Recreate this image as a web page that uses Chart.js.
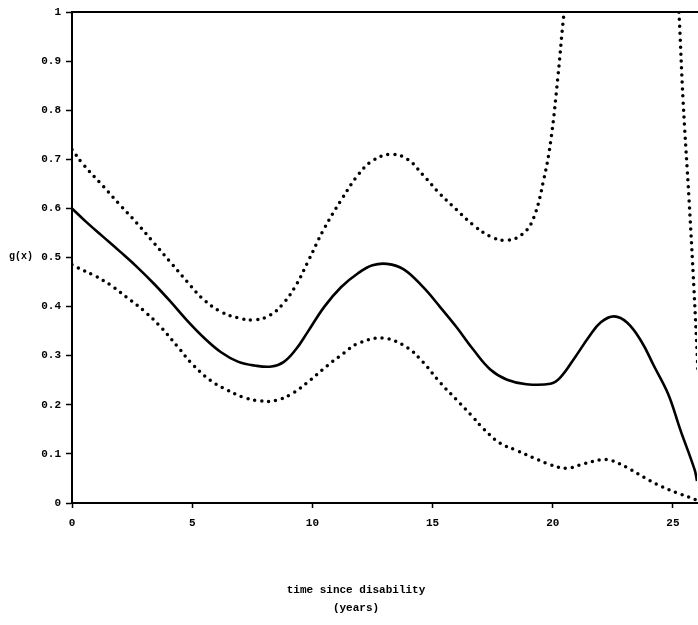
<!DOCTYPE html>
<html>
<head>
<meta charset="utf-8">
<script src="https://cdn.jsdelivr.net/npm/chart.js@4/dist/chart.umd.min.js"></script>
<style>
  html, body { margin: 0; padding: 0; background: #fff; }
  #wrap { width: 698px; height: 625px; }
</style>
</head>
<body>
<div id="wrap"><canvas id="gChart" width="698" height="625"></canvas></div>
<script>
// estimate g(x) and its pointwise band
const estX = [0, 0.6, 1.3, 2.0, 2.7, 3.4, 4.1, 4.8, 5.5, 6.2, 6.9, 7.6, 8.3, 8.8, 9.3, 9.8, 10.5, 11.2, 11.9, 12.5, 13.1, 13.8, 14.6, 15.3, 16.0, 16.7, 17.4, 18.1, 18.9, 19.9, 20.3, 20.9, 21.5, 22.0, 22.55, 23.1, 23.7, 24.2, 24.8, 25.3, 25.9, 26.0];
const estY = [0.60, 0.572, 0.542, 0.512, 0.481, 0.447, 0.41, 0.371, 0.336, 0.307, 0.288, 0.28, 0.278, 0.287, 0.312, 0.348, 0.40, 0.44, 0.468, 0.484, 0.487, 0.476, 0.44, 0.40, 0.358, 0.312, 0.272, 0.251, 0.242, 0.243, 0.255, 0.295, 0.338, 0.368, 0.38, 0.367, 0.328, 0.28, 0.222, 0.15, 0.068, 0.045];

const upX = [0, 0.46, 1.3, 2.0, 2.7, 3.4, 4.1, 4.8, 5.46, 6.17, 6.9, 7.6, 8.25, 8.8, 9.3, 9.8, 10.46, 11.2, 11.9, 12.5, 13.25, 13.96, 14.6, 15.3, 16.0, 16.7, 17.4, 18.1, 18.75, 19.2, 19.63, 19.92, 20.21, 20.46, 21.2, 22.5, 24.0, 25.0, 25.25, 25.42, 25.67, 25.875, 26.04];
const upY = [0.72, 0.69, 0.645, 0.607, 0.57, 0.53, 0.49, 0.45, 0.415, 0.39, 0.377, 0.373, 0.383, 0.407, 0.442, 0.49, 0.556, 0.617, 0.668, 0.697, 0.71, 0.70, 0.668, 0.63, 0.597, 0.566, 0.543, 0.535, 0.548, 0.58, 0.66, 0.739, 0.866, 0.994, 1.3, 1.6, 1.6, 1.22, 1.0, 0.82, 0.617, 0.434, 0.27];

const lowX = [0, 0.2, 0.9, 1.6, 2.3, 3.0, 3.7, 4.4, 5.0, 5.75, 6.46, 7.1, 7.8, 8.5, 9.2, 9.9, 10.6, 11.3, 11.9, 12.96, 13.96, 14.6, 15.3, 16.0, 16.7, 17.1, 17.8, 18.5, 19.2, 19.9, 20.6, 21.3, 22.0, 22.4, 23.1, 23.8, 24.5, 25.2, 26.0];
const lowY = [0.485, 0.48, 0.464, 0.444, 0.418, 0.391, 0.358, 0.318, 0.283, 0.25, 0.23, 0.216, 0.208, 0.209, 0.224, 0.25, 0.279, 0.305, 0.325, 0.336, 0.316, 0.287, 0.246, 0.21, 0.174, 0.152, 0.122, 0.107, 0.092, 0.078, 0.071, 0.08, 0.088, 0.087, 0.072, 0.052, 0.034, 0.02, 0.006];

const xTicks = [0, 5, 10, 15, 20, 25];
const yTickLabels = ["0", "0.1", "0.2", "0.3", "0.4", "0.5", "0.6", "0.7", "0.8", "0.9", "1"];

const yTitle = "g(x)";
const xTitle = ["time since disability", "(years)"];

function pts(xs, ys) {
    return xs.map((x, i) => ({ x: x, y: ys[i] }));
}

const tickFont = { family: "'Liberation Mono', 'DejaVu Sans Mono', monospace", size: 11, weight: "bold" };

// titles placed where the scan has them
const titlesPlugin = {
    id: "titles",
    afterDraw(chart) {
        const ctx = chart.ctx;
        ctx.save();
        ctx.fillStyle = "#000";
        ctx.textBaseline = "middle";
        ctx.font = "bold 10px 'Liberation Mono', monospace";
        ctx.textAlign = "left";
        ctx.fillText(yTitle, 9, 256);
        ctx.font = "bold 11px 'Liberation Mono', monospace";
        ctx.textAlign = "center";
        ctx.fillText(xTitle[0], 356, 590);
        ctx.fillText(xTitle[1], 356, 608);
        ctx.restore();
    }
};

const dotted = {
    borderColor: "#000",
    borderWidth: 3.5,
    borderDash: [0, 7],
    borderCapStyle: "round",
    pointRadius: 0,
    tension: 0.4,
    fill: false
};

new Chart(document.getElementById("gChart").getContext("2d"), {
    type: "line",
    data: {
        datasets: [
            { label: "estimate", data: pts(estX, estY), borderColor: "#000", borderWidth: 2.6, pointRadius: 0, tension: 0.4, fill: false },
            Object.assign({ label: "upper", data: pts(upX, upY) }, dotted),
            Object.assign({ label: "lower", data: pts(lowX, lowY) }, dotted)
        ]
    },
    options: {
        responsive: false,
        animation: false,
        layout: { padding: { top: 12, right: 1, left: 0, bottom: 0 } },
        plugins: { legend: { display: false }, tooltip: { enabled: false } },
        scales: {
            x: {
                type: "linear",
                min: 0,
                max: 26,
                afterFit: s => { s.height = 122; },
                afterBuildTicks: s => { s.ticks = xTicks.map(v => ({ value: v })); },
                ticks: { color: "#000", font: tickFont, padding: 9, maxRotation: 0 },
                grid: { drawOnChartArea: false, tickLength: 5, tickWidth: 1.5, tickColor: "#000" },
                border: { display: true, color: "#000", width: 2 }
            },
            xTop: {
                type: "linear",
                position: "top",
                min: 0,
                max: 26,
                afterFit: s => { s.height = 0; },
                ticks: { display: false },
                grid: { display: false, drawTicks: false },
                border: { display: true, color: "#000", width: 2 }
            },
            y: {
                min: 0,
                max: 1,
                afterFit: s => { s.width = 72; },
                ticks: { stepSize: 0.1, color: "#000", font: tickFont, padding: 5, callback: (v, i) => yTickLabels[i] },
                grid: { drawOnChartArea: false, tickLength: 6, tickWidth: 1.5, tickColor: "#000" },
                border: { display: true, color: "#000", width: 2 }
            }
        }
    },
    plugins: [titlesPlugin]
});
</script>
</body>
</html>
